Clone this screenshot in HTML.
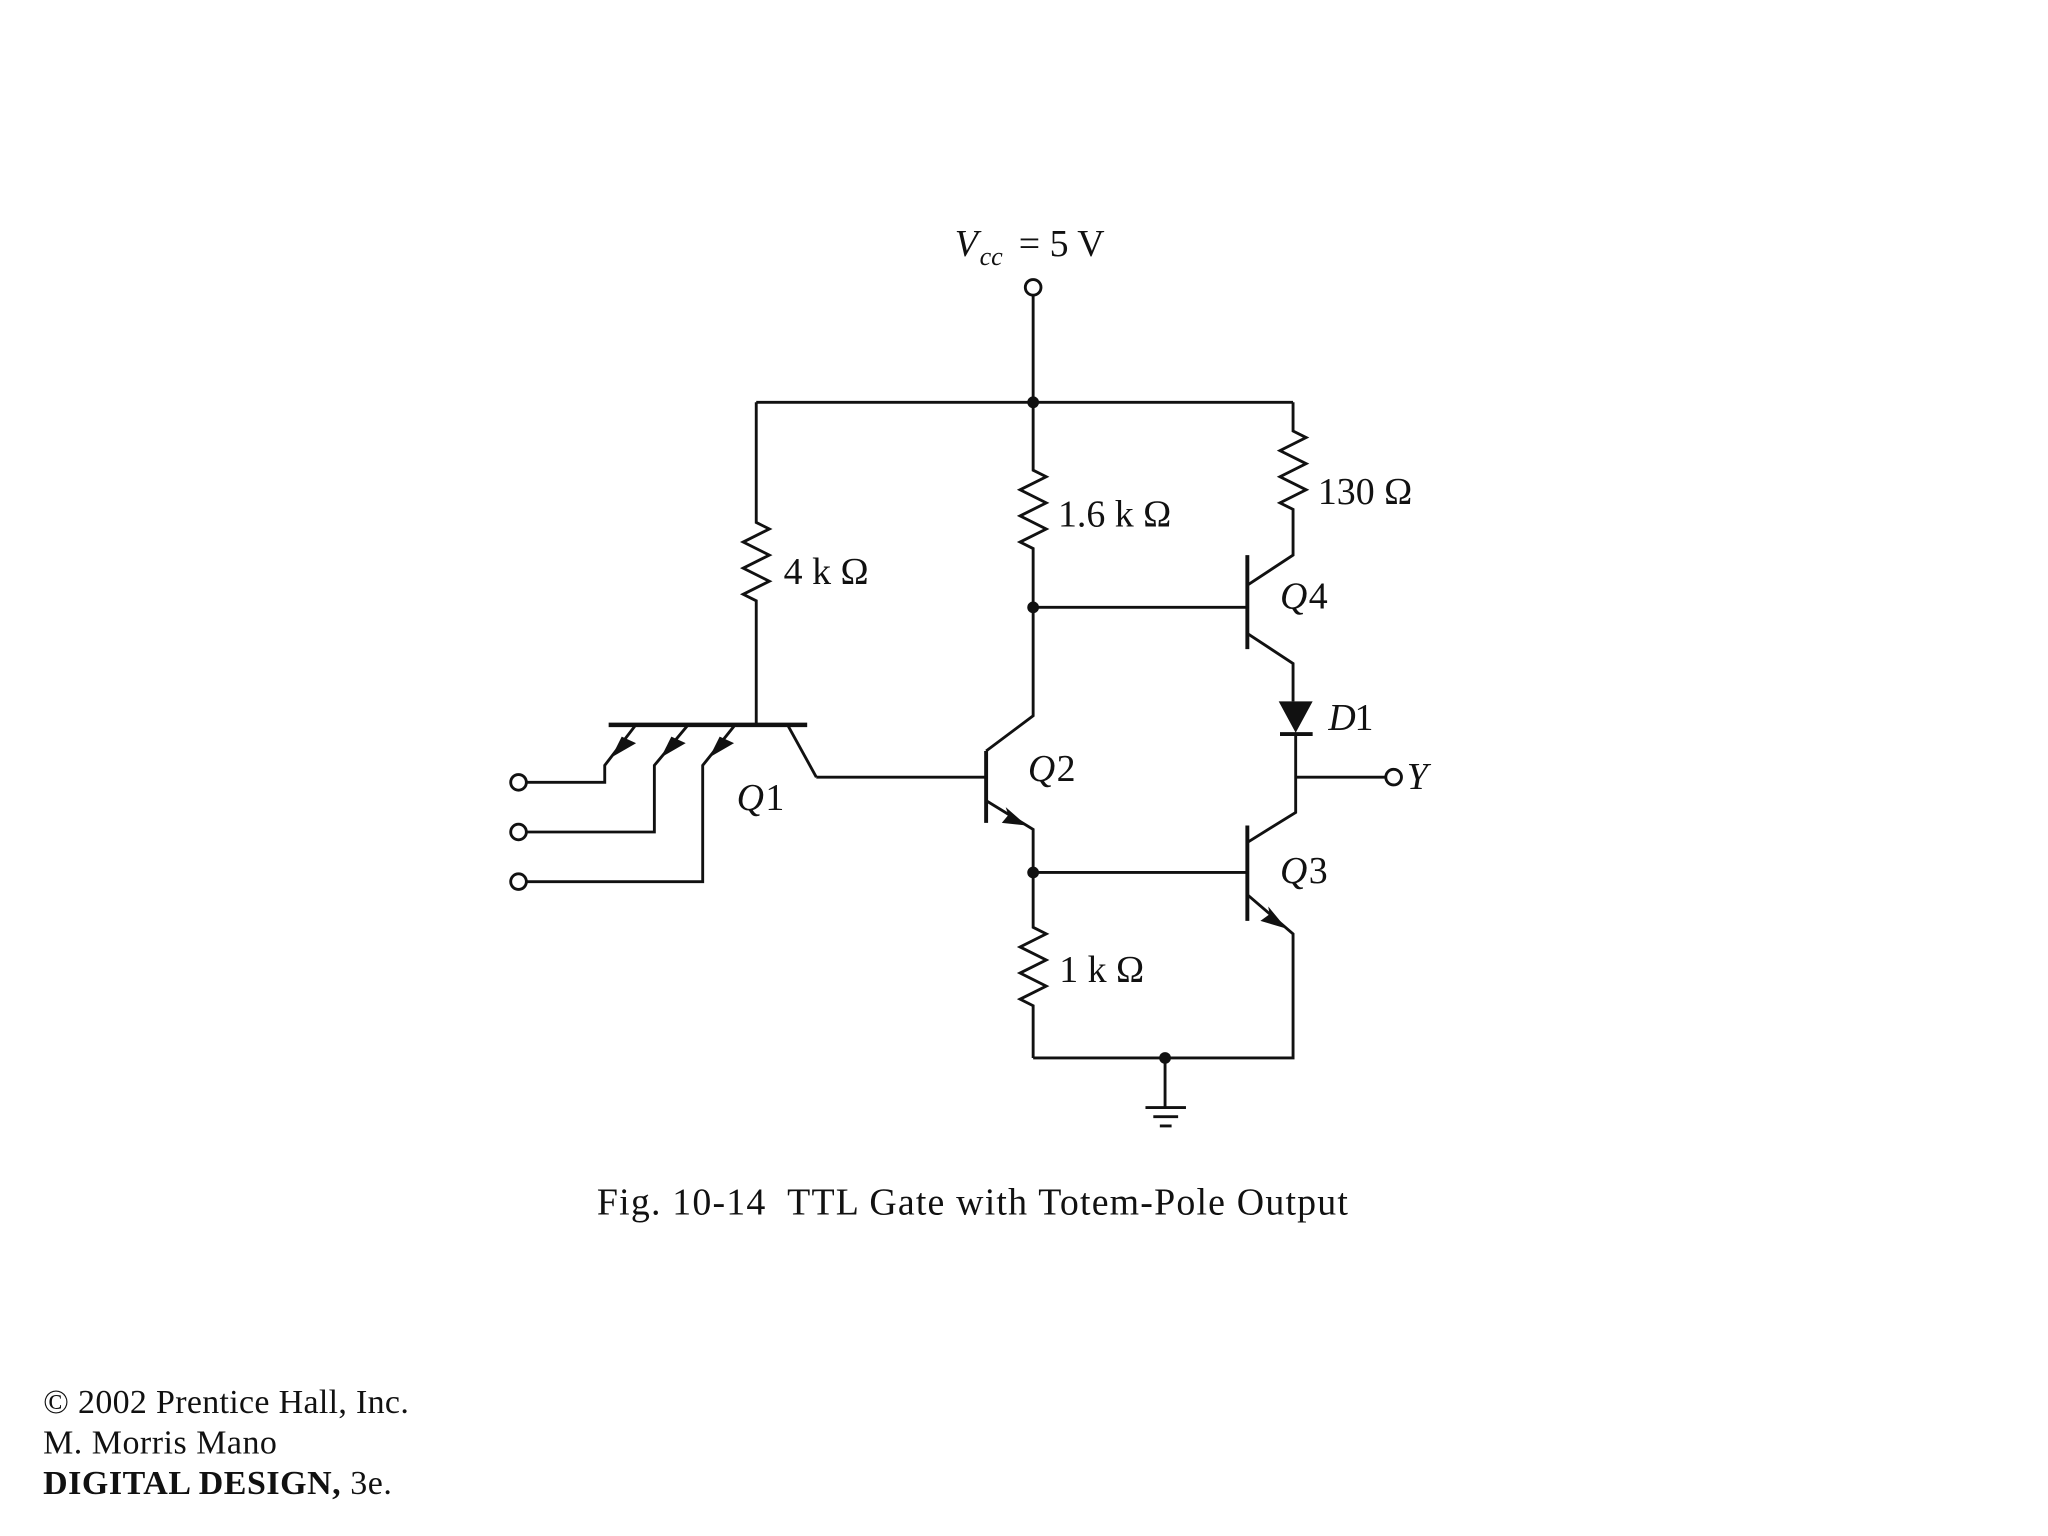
<!DOCTYPE html>
<html><head><meta charset="utf-8"><style>
html,body{margin:0;padding:0;background:#fff}
svg{display:block}
text{font-family:"Liberation Serif",serif;fill:#111}
</style></head><body>
<svg width="2048" height="1536" viewBox="0 0 1568 1176" xmlns="http://www.w3.org/2000/svg">
<g stroke="#111" stroke-width="2.2" fill="none" stroke-linejoin="miter">
<circle cx="791" cy="220" r="6"/>
<path d="M791 226V308M579 308H990"/>
<path d="M579 308V400 l10 5 -20 10 20 10 -20 10 20 10 -20 10 10 5V556"/>
<path d="M791 308V360 l10 5 -20 10 20 10 -20 10 20 10 -20 10 10 5V548 L755 575"/>
<path d="M990 308V330 l10 5 -20 10 20 10 -20 10 20 10 -20 10 10 5V425 L955 448"/>
<path d="M791 465H955M955 485L990 508V537"/>
<path d="M955 425V497" stroke-width="3"/>
<path d="M980 562H1005" stroke-width="3"/>
<path d="M992 562V622L955 645M992 595H1061"/>
<circle cx="1067" cy="595" r="6"/>
<path d="M955 632V705" stroke-width="3"/>
<path d="M791 668H955M955 685L990 715V810H791"/>
<path d="M755 575V630" stroke-width="3"/>
<path d="M625 595H755M755 613L791 635V710 l10 5 -20 10 20 10 -20 10 20 10 -20 10 10 5V810"/>
<path d="M892 810V848M877 848H908M883 855H902M888 862H897"/>
<path d="M466 555H618" stroke-width="3.5"/>
<path d="M603 555L625 595"/>
<path d="M486 556L463 586V599H403"/>
<path d="M526 556L501 586V637H403"/>
<path d="M562 556L538 586V675H403"/>
<circle cx="397" cy="599" r="6"/>
<circle cx="397" cy="637" r="6"/>
<circle cx="397" cy="675" r="6"/>
</g>
<g fill="#111">
<circle cx="791" cy="308" r="4.5"/>
<circle cx="791" cy="465" r="4.5"/>
<circle cx="791" cy="668" r="4.5"/>
<circle cx="892" cy="810" r="4.5"/>
<polygon points="979,537 1005,537 992,561"/>
<polygon points="468,580 487,569 476,564 473,570"/>
<polygon points="506,580 525,569 514,564 511,570"/>
<polygon points="543,580 562,569 551,564 548,570"/>
<polygon points="786,632 767,630 772,624 770,618"/>
<polygon points="985,711 965,705 972,700 971,694"/>
</g>
<g font-size="29">
<text x="731" y="196" font-style="italic">V</text>
<text x="750" y="203" font-size="20" font-style="italic">cc</text>
<text x="780" y="196">= 5 V</text>
<text x="810" y="403">1.6 k Ω</text>
<text x="1009" y="386">130 Ω</text>
<text x="600" y="447">4 k Ω</text>
<text x="980" y="466" font-style="italic">Q</text><text x="1002" y="466">4</text>
<text x="1017" y="559" font-style="italic">D</text><text x="1037" y="559">1</text>
<text x="1077" y="604" font-style="italic">Y</text>
<text x="787" y="598" font-style="italic">Q</text><text x="809" y="598">2</text>
<text x="564" y="620" font-style="italic">Q</text><text x="586" y="620">1</text>
<text x="980" y="676" font-style="italic">Q</text><text x="1002" y="676">3</text>
<text x="811" y="752">1 k Ω</text>
<text x="457" y="930" font-size="29" textLength="575" lengthAdjust="spacing" xml:space="preserve">Fig. 10-14  TTL Gate with Totem-Pole Output</text>
</g>
<g font-size="26">
<text x="33" y="1082" textLength="280">© 2002 Prentice Hall, Inc.</text>
<text x="33" y="1113" textLength="179">M. Morris Mano</text>
<text x="33" y="1144" textLength="267"><tspan font-weight="bold">DIGITAL DESIGN,</tspan> 3e.</text>
</g>
</svg>
</body></html>
